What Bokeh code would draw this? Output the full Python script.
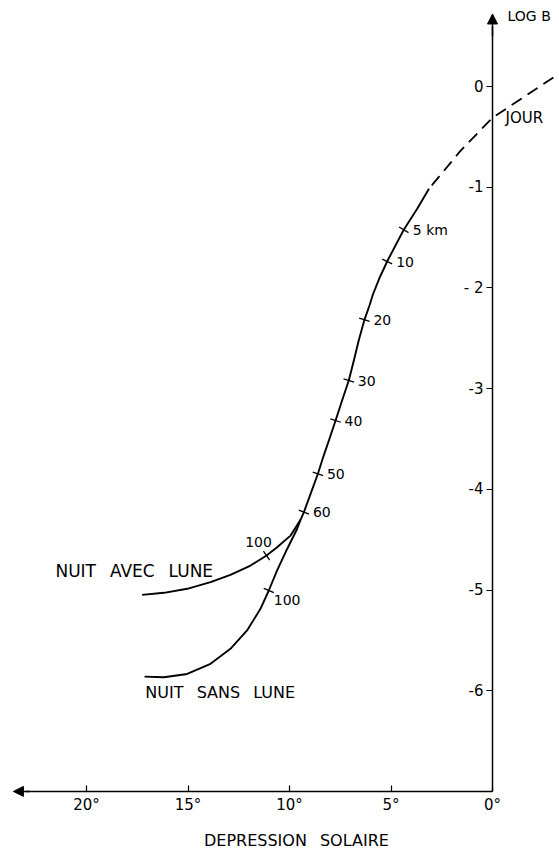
import math
from bokeh.plotting import figure
from bokeh.models import (Range1d, LinearAxis, FixedTicker, Arrow, NormalHead,
                          ColumnDataSource)
from bokeh.core.properties import value
from bokeh.embed import file_html
from bokeh.resources import INLINE

# ---------------- data ----------------
# dashed "JOUR" part (solar depression in degrees, log B)
day_deg = [-3.0, -1.5, 0.0, 1.58, 3.13]
day_logb = [0.09, -0.11, -0.31, -0.64, -1.016]

# solid twilight part down to the split point
twil_deg = [3.13, 3.71, 4.37, 4.78, 5.19, 5.55, 5.88, 6.06, 6.31, 6.59, 6.83, 7.08,
            7.41, 7.73, 8.06, 8.34, 8.6, 8.93, 9.29, 9.45]
twil_logb = [-1.016, -1.215, -1.423, -1.579, -1.738, -1.894, -2.059, -2.175, -2.317,
             -2.522, -2.72, -2.92, -3.118, -3.317, -3.515, -3.68, -3.846, -4.028,
             -4.226, -4.30]

# night with moon
avec_deg = [9.45, 9.95, 10.61, 11.13, 11.92, 12.91, 13.89, 15.04, 16.19, 17.26]
avec_logb = [-4.30, -4.46, -4.575, -4.658, -4.757, -4.849, -4.922, -4.988, -5.028, -5.048]

# night without moon
sans_deg = [9.45, 9.62, 10.11, 10.61, 11.02, 11.43, 12.09, 12.91, 13.89, 15.04, 16.19, 17.14]
sans_logb = [-4.30, -4.392, -4.59, -4.806, -5.005, -5.187, -5.402, -5.584, -5.733,
             -5.834, -5.867, -5.86]

# altitude marks on the twilight curve
km_labels = ["5 km", "10", "20", "30", "40", "50", "60"]
km_deg = [4.37, 5.19, 6.31, 7.08, 7.73, 8.6, 9.29]
km_logb = [-1.423, -1.738, -2.317, -2.92, -3.317, -3.846, -4.226]

# 100 km marks on the two night branches
avec_mark_deg, avec_mark_logb = 11.13, -4.658
sans_mark_deg, sans_mark_logb = 11.02, -5.005

# axes
y_ticks = [0, -1, -2, -3, -4, -5, -6]
y_tick_labels = ["0", "-1", "- 2", "-3", "-4", "-5", "-6"]
x_ticks = [0, 5, 10, 15, 20]
x_tick_labels = ["0°", "5°", "10°", "15°", "20°"]

# ---------------- layout ----------------
W, H = 559, 857
SX, SY = 20.3, 100.7          # px per degree, px per log unit
X0 = 492 / SX
X1 = X0 - W / SX
Y1 = 86 / SY
Y0 = Y1 - H / SY
FONT = "DejaVu Sans"
GAP = "\u2002 "               # wide word spacing of the original lettering

p = figure(width=W, height=H, x_range=Range1d(X0, X1), y_range=Range1d(Y0, Y1),
           output_backend="svg", toolbar_location=None,
           x_axis_location=None, y_axis_location=None, min_border=0)
p.grid.visible = False
p.outline_line_color = None
p.background_fill_color = "white"

# y axis at 0 degrees
yax = LinearAxis(fixed_location=0, bounds=(-7, 0.6), ticker=FixedTicker(ticks=y_ticks),
                 major_label_overrides=dict(zip(y_ticks, y_tick_labels)))
yax.major_tick_out = 6
yax.major_tick_in = 0
yax.minor_tick_out = 0
yax.minor_tick_in = 0
yax.major_label_standoff = 3
yax.axis_line_width = 1.5
yax.major_tick_line_width = 1.2
yax.major_label_text_font = FONT
yax.major_label_text_font_size = "15px"
yax.major_label_text_color = "black"
p.add_layout(yax, "left")

# x axis at log B = -7
xax = LinearAxis(fixed_location=-7, bounds=(0, 23.0), ticker=FixedTicker(ticks=x_ticks),
                 major_label_overrides=dict(zip(x_ticks, x_tick_labels)))
xax.major_tick_out = 0
xax.major_tick_in = 6
xax.minor_tick_out = 0
xax.minor_tick_in = 0
xax.major_label_standoff = 5
xax.axis_line_width = 1.5
xax.major_tick_line_width = 1.2
xax.major_label_text_font = FONT
xax.major_label_text_font_size = "15px"
xax.major_label_text_color = "black"
p.add_layout(xax, "below")

# arrow heads
p.add_layout(Arrow(x_start=0, y_start=0.5, x_end=0, y_end=0.72,
                   end=NormalHead(size=10, fill_color="black", line_color="black"),
                   line_width=1.5))
p.add_layout(Arrow(x_start=22.8, y_start=-7, x_end=23.6, y_end=-7,
                   end=NormalHead(size=10, fill_color="black", line_color="black"),
                   line_width=1.5))

# curves
p.line(day_deg, day_logb, line_color="black", line_width=1.8, line_dash="12 7")
p.line(twil_deg, twil_logb, line_color="black", line_width=1.9, line_join="round")
p.line(avec_deg, avec_logb, line_color="black", line_width=1.9, line_join="round")
p.line(sans_deg, sans_logb, line_color="black", line_width=1.9, line_join="round")


def perp_angle(xs, ys, x0, y0):
    """screen angle perpendicular to the curve at the point nearest (x0, y0)"""
    i = min(range(len(xs)), key=lambda k: (xs[k] - x0) ** 2 + (ys[k] - y0) ** 2)
    a = max(i - 1, 0)
    b = min(i + 1, len(xs) - 1)
    dx = -(xs[b] - xs[a]) * SX  # x axis is reversed
    dy = (ys[b] - ys[a]) * SY
    return math.atan2(dy, dx) + math.pi / 2


km_angles = [perp_angle(twil_deg, twil_logb, x, y) for x, y in zip(km_deg, km_logb)]
p.scatter(km_deg, km_logb, marker="dash", size=11, angle=km_angles,
          line_color="black", line_width=1.3)
p.scatter([avec_mark_deg], [avec_mark_logb], marker="dash", size=11,
          angle=[perp_angle(avec_deg, avec_logb, avec_mark_deg, avec_mark_logb)],
          line_color="black", line_width=1.3)
p.scatter([sans_mark_deg], [sans_mark_logb], marker="dash", size=11,
          angle=[perp_angle(sans_deg, sans_logb, sans_mark_deg, sans_mark_logb)],
          line_color="black", line_width=1.3)

# km labels
src = ColumnDataSource(dict(x=km_deg, y=km_logb, t=km_labels))
p.text("x", "y", text="t", source=src, x_offset=9, text_baseline="middle",
       text_align="left", text_font=value(FONT), text_font_size="14px",
       text_color="black")
p.text([avec_mark_deg], [avec_mark_logb], text=["100"], x_offset=-8, y_offset=-14,
       text_baseline="middle", text_align="center", text_font=value(FONT),
       text_font_size="14px", text_color="black")
p.text([sans_mark_deg], [sans_mark_logb], text=["100"], x_offset=5, y_offset=9,
       text_baseline="middle", text_align="left", text_font=value(FONT),
       text_font_size="14px", text_color="black")

# other texts
p.text([21.53], [-4.81], text=[GAP.join(["NUIT", "AVEC", "LUNE"])], text_baseline="middle",
       text_align="left", text_font=value(FONT), text_font_size="17px", text_color="black")
p.text([17.1], [-6.02], text=[GAP.join(["NUIT", "SANS", "LUNE"])], text_baseline="middle",
       text_align="left", text_font=value(FONT), text_font_size="16px", text_color="black")
p.text([-0.64], [-0.31], text=["JOUR"], text_baseline="middle",
       text_align="left", text_font=value(FONT), text_font_size="15px", text_color="black")
p.text([-0.74], [0.705], text=["LOG B"], text_baseline="middle",
       text_align="left", text_font=value(FONT), text_font_size="14px", text_color="black")
p.text([9.66], [-7.49], text=[GAP.join(["DEPRESSION", "SOLAIRE"])], text_baseline="middle",
       text_align="center", text_font=value(FONT), text_font_size="16px", text_color="black")

open("out.html", "w").write(file_html(p, INLINE))
